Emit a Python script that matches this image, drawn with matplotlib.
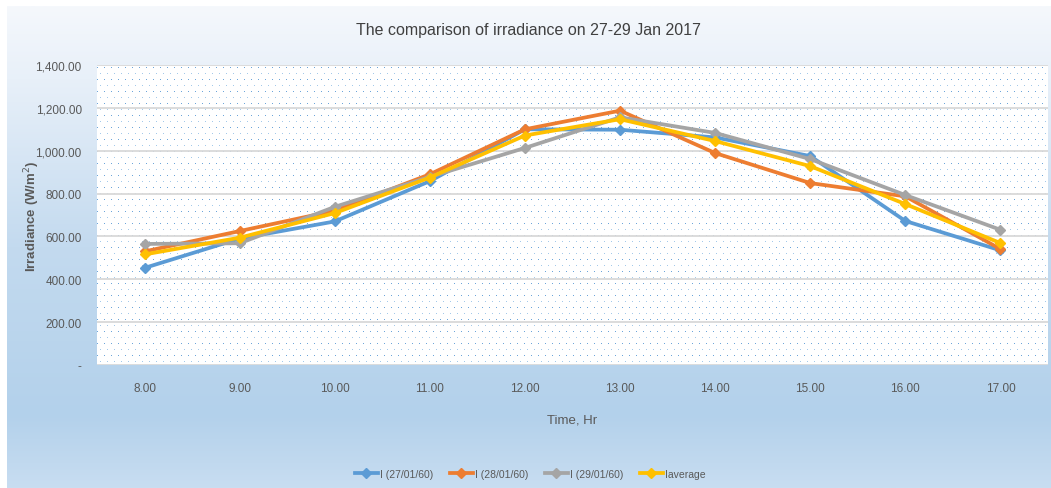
import numpy as np
import matplotlib
matplotlib.use("Agg")
import matplotlib.pyplot as plt
from matplotlib.colors import LinearSegmentedColormap
from matplotlib.lines import Line2D

hours = ["8.00", "9.00", "10.00", "11.00", "12.00", "13.00", "14.00", "15.00", "16.00", "17.00"]
i_27 = [453, 590, 670, 858, 1100, 1098, 1062, 975, 672, 535]
i_28 = [530, 625, 720, 890, 1100, 1187, 989, 849, 787, 541]
i_29 = [565, 568, 738, 878, 1013, 1156, 1083, 961, 793, 631]
i_avg = [516, 594, 709, 875, 1071, 1147, 1045, 928, 751, 569]

series = [
    ("I (27/01/60)", i_27, "#5b9bd5"),
    ("I (28/01/60)", i_28, "#ed7d31"),
    ("I (29/01/60)", i_29, "#a5a5a5"),
    ("Iaverage", i_avg, "#ffc000"),
]
yticks = [0, 200, 400, 600, 800, 1000, 1200, 1400]

narrow = ["Liberation Sans Narrow", "Liberation Sans", "DejaVu Sans"]
W, H = 1051, 489
fig = plt.figure(figsize=(W / 100, H / 100), dpi=100)
fig.patch.set_facecolor("white")

# chart area background gradient
bg = fig.add_axes([7 / W, 0, (W - 7) / W, (H - 7) / H])
bg.set_axis_off()
cmap = LinearSegmentedColormap.from_list(
    "bg", [(0, "#f5f8fc"), (0.15, "#e8f0f9"), (0.5, "#c3daef"),
           (0.85, "#b3d1eb"), (1.0, "#c8ddf1")])
grad = np.linspace(0, 1, 256).reshape(-1, 1)
bg.imshow(grad, aspect="auto", cmap=cmap, extent=[0, 1, 0, 1])

# plot area
left, right, top, bottom = 97, 1048, 66, 366
ax = fig.add_axes([left / W, (H - bottom) / H, (right - left) / W, (bottom - top) / H])
ax.set_facecolor("white")

# dotted fill pattern of the plot area
pw, ph = right - left, bottom - top
pat = np.ones((ph, pw, 4))
pat[..., 3] = 0
for r in range(2, ph, 6):
    off = 0 if (r // 6) % 2 == 0 else 3
    col = (0.36, 0.61, 0.84, 0.9) if (r // 6) % 2 == 0 else (0.55, 0.74, 0.90, 0.8)
    pat[r, off::7] = col
ax.imshow(pat, extent=[0, 1, 0, 1], transform=ax.transAxes, aspect="auto",
          interpolation="nearest", zorder=0)

x = np.arange(len(hours))
for label, vals, color in series:
    ax.plot(x, vals, color=color, lw=2.7, marker="D", ms=5, label=label,
            zorder=3, solid_joinstyle="round")

ax.set_xlim(-0.5, len(hours) - 0.5)
ax.set_ylim(0, 1400)
ax.set_yticks(yticks)
ax.set_yticklabels(["-" if v == 0 else f"{v:,.2f}" for v in yticks])
ax.set_xticks(x)
ax.set_xticklabels(hours)
ax.yaxis.grid(True, color="#d9d9d9", lw=1.3, zorder=1)
ax.set_axisbelow(True)
for s in ax.spines.values():
    s.set_visible(False)
ax.tick_params(length=0, colors="#595959", labelsize=8.5)
for t in ax.get_xticklabels() + ax.get_yticklabels():
    t.set_family(narrow)
ax.tick_params(axis="y", pad=11)
ax.tick_params(axis="x", pad=12)

ax.set_xlabel("Time, Hr", family=narrow, fontsize=9.5, color="#595959", labelpad=14)
ax.set_ylabel("Irradiance (W/m$^2$)", fontsize=9.5, fontweight="bold", color="#595959",
              family=["Liberation Sans", "DejaVu Sans"])
ax.yaxis.set_label_coords(-0.058, 0.5)

fig.text(528 / W, 1 - 31 / H, "The comparison of irradiance on 27-29 Jan 2017",
         family=narrow, fontsize=11.5, color="#404040", ha="center", va="center")

handles = [Line2D([], [], color=c, lw=2.7, marker="D", ms=5) for _, _, c in series]
fig.legend(handles, [s[0] for s in series], loc="center", bbox_to_anchor=(530 / W, 1 - 475 / H),
           ncol=4, frameon=False, prop={"family": narrow, "size": 7.5},
           labelcolor="#595959", handlelength=2.2, handletextpad=0.2, columnspacing=1.6)

fig.savefig("out.png", dpi=100)
